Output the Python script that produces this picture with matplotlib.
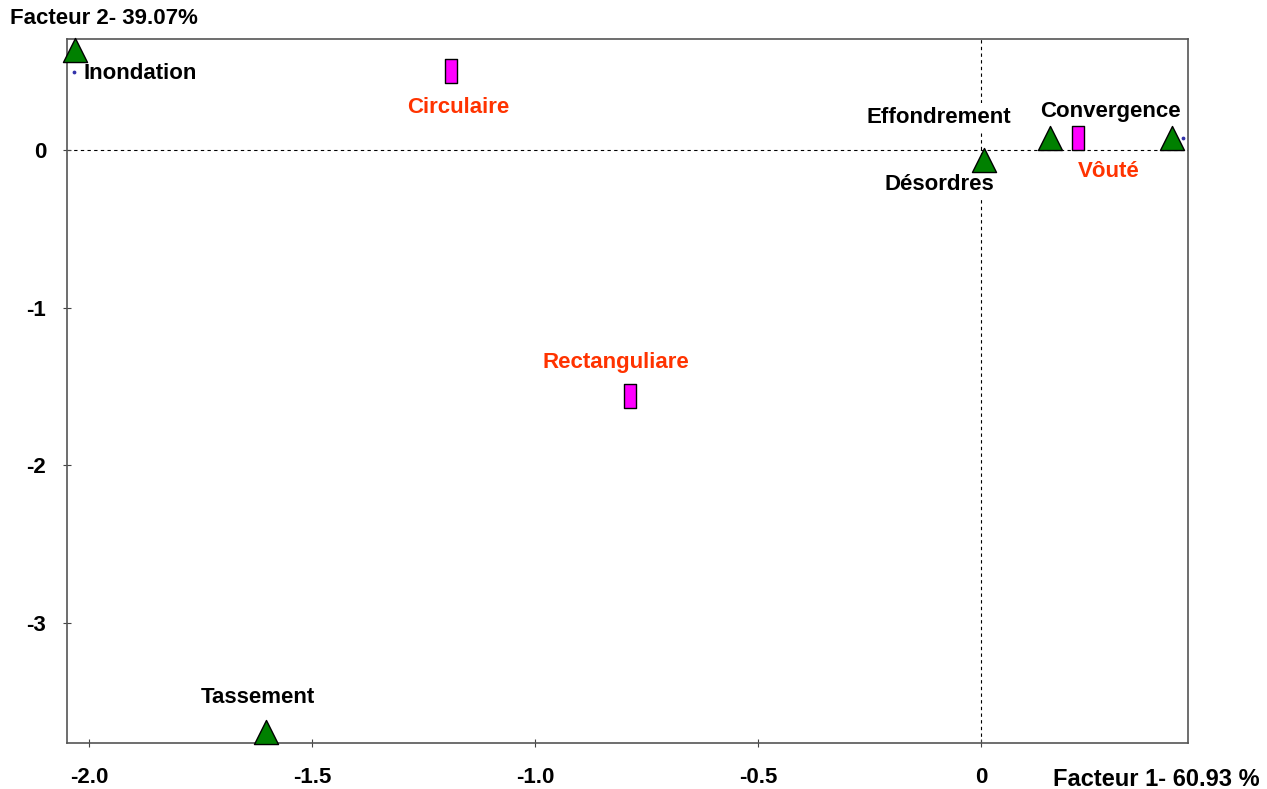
import matplotlib.pyplot as plt
from matplotlib.path import Path

plt.rcParams['font.family'] = ['Liberation Sans', 'DejaVu Sans']
plt.rcParams['font.weight'] = 'bold'

# modalites (triangles verts)
noms_tri = ['Inondation', 'Tassement', 'Désordres', 'Effondrement', 'Convergence']
x_tri = [-2.031, -1.603, 0.007, 0.155, 0.428]
y_tri = [0.634, -3.69, -0.063, 0.076, 0.076]

# formes (rectangles magenta)
noms_rect = ['Circulaire', 'Rectanguliare', 'Vôuté']
x_rect = [-1.188, -0.787, 0.217]
y_rect = [0.50, -1.56, 0.076]

# petits points bleus
x_pts = [-2.034, 0.453]
y_pts = [0.495, 0.076]

xticks = [-2.0, -1.5, -1.0, -0.5, 0]
xtick_lab = ['-2.0', '-1.5', '-1.0', '-0.5', '0']
yticks = [0, -1, -2, -3]
ytick_lab = ['0', '-1', '-2', '-3']

fig = plt.figure(figsize=(12.67, 7.89), dpi=100)
ax = fig.add_axes([0.0529, 0.0583, 0.8847, 0.8923])
ax.set_xlim(-2.05, 0.464)
ax.set_ylim(-3.76, 0.704)

ax.axhline(0, color='black', ls=(0, (3, 3)), lw=0.8, zorder=1)
ax.axvline(0, color='black', ls=(0, (3, 3)), lw=0.8, zorder=1)

rect = Path([(-0.5, -1), (0.5, -1), (0.5, 1), (-0.5, 1), (-0.5, -1)],
            [Path.MOVETO, Path.LINETO, Path.LINETO, Path.LINETO, Path.CLOSEPOLY])

ax.scatter(x_pts, y_pts, marker='o', s=3, color='#3333aa', zorder=2, clip_on=False)
ax.scatter(x_tri, y_tri, marker='^', s=300, color='#008000', edgecolor='black',
           linewidth=1, zorder=4, clip_on=False)
ax.scatter(x_rect, y_rect, marker=rect, s=275, color='#ff00ff', edgecolor='black',
           linewidth=1, zorder=4, clip_on=False)

# positions des etiquettes (decalage en points)
dec_tri = [(6, -17, 'left'), (-6, 25, 'center'), (-32, -18, 'center'), (-80, 15, 'center'), (-44, 19, 'center')]
for n, x, y, d in zip(noms_tri, x_tri, y_tri, dec_tri):
    ax.annotate(n, (x, y), xytext=(d[0], d[1]), textcoords='offset points', ha=d[2], va='center',
                fontsize=16, color='black', zorder=3,
                bbox=dict(boxstyle='square,pad=0.15', fc='white', ec='none'))

dec_rect = [(5, -26), (-10, 24), (22, -24)]
for n, x, y, d in zip(noms_rect, x_rect, y_rect, dec_rect):
    ax.annotate(n, (x, y), xytext=d, textcoords='offset points', ha='center', va='center',
                fontsize=16, color='#ff3300', zorder=3,
                bbox=dict(boxstyle='square,pad=0.15', fc='white', ec='none'))

ax.set_xticks(xticks)
ax.set_xticklabels(xtick_lab)
ax.set_yticks(yticks)
ax.set_yticklabels(ytick_lab)
ax.tick_params(direction='inout', length=6, width=0.8, labelsize=16, color='#444444')
ax.tick_params(axis='x', pad=14)
ax.tick_params(axis='y', pad=12)
for s in ax.spines.values():
    s.set_color('#555555')
    s.set_linewidth(1.2)

fig.text(0.008, 0.976, 'Facteur 2- 39.07%', fontsize=16, ha='left', va='center')
fig.text(0.994, 0.012, 'Facteur 1- 60.93 %', fontsize=17, ha='right', va='center')

plt.savefig('out.png', dpi=100)
